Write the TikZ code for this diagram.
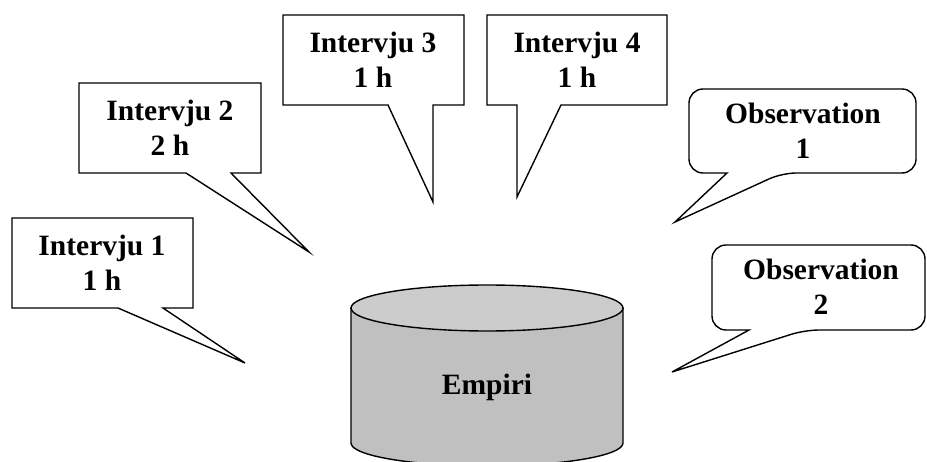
\documentclass[tikz,border=0pt]{standalone}
\usepackage{fontspec}
\setmainfont{Liberation Serif}
\begin{document}
\begin{tikzpicture}[x=1pt,y=-1pt,
  bubble/.style={draw=black,line width=1.4pt,fill=white,line join=miter},
  label/.style={font=\fontsize{29.5}{35}\selectfont\bfseries,align=center,inner sep=0pt},
  dbside/.style={draw=black,line width=1.4pt,fill=cylside},
  dbtop/.style={draw=black,line width=1.4pt,fill=cyltop}]
\definecolor{cylside}{RGB}{192,192,192}
\definecolor{cyltop}{RGB}{204,204,204}
\useasboundingbox (0,0) rectangle (927,462);

% data store
\coordinate (dbtl) at (351,308);
\coordinate (dbbl) at (351,443);
\coordinate (dbtr) at (623,308);
\coordinate (dbc) at (487,308);
\draw[dbside] (dbtl) -- (dbbl) arc[start angle=180,end angle=360,x radius=136pt,y radius=23pt] -- (dbtr) -- cycle;
\draw[dbtop] (dbc) ellipse[x radius=136pt,y radius=23pt];
\node[label] (empiri) at (487,387) {Empiri};

% interview callouts
\draw[bubble] (12,218) -- (193,218) -- (193,308) -- (163,308) -- (245,363) -- (118,308) -- (12,308) -- cycle;
\node[label] (i1) at (102,263) {Intervju 1\\1 h};

\draw[bubble] (79,83) -- (261,83) -- (261,173) -- (231,173) -- (309,252) -- (186,173) -- (79,173) -- cycle;
\node[label] (i2) at (170,128) {Intervju 2\\2 h};

\draw[bubble] (283,15) -- (464,15) -- (464,105) -- (433,105) -- (433,202) -- (388,105) -- (283,105) -- cycle;
\node[label] (i3) at (373,60) {Intervju 3\\1 h};

\draw[bubble] (487,15) -- (667,15) -- (667,105) -- (561,105) -- (517,197) -- (517,105) -- (487,105) -- cycle;
\node[label] (i4) at (577,60) {Intervju 4\\1 h};

% observation callouts
\draw[bubble,rounded corners=14pt] (689,89) -- (916,89) -- (916,173) -- (782,173)
  [sharp corners] -- (675,222) -- (727,173) [rounded corners=14pt] -- (689,173) -- cycle;
\node[label] (o1) at (803,131) {Observation\\1};

\draw[bubble,rounded corners=14pt] (712,245) -- (925,245) -- (925,330) -- (805,330)
  [sharp corners] -- (672,372) -- (749,330) [rounded corners=14pt] -- (712,330) -- cycle;
\node[label] (o2) at (821,287) {Observation\\2};
\end{tikzpicture}
\end{document}
